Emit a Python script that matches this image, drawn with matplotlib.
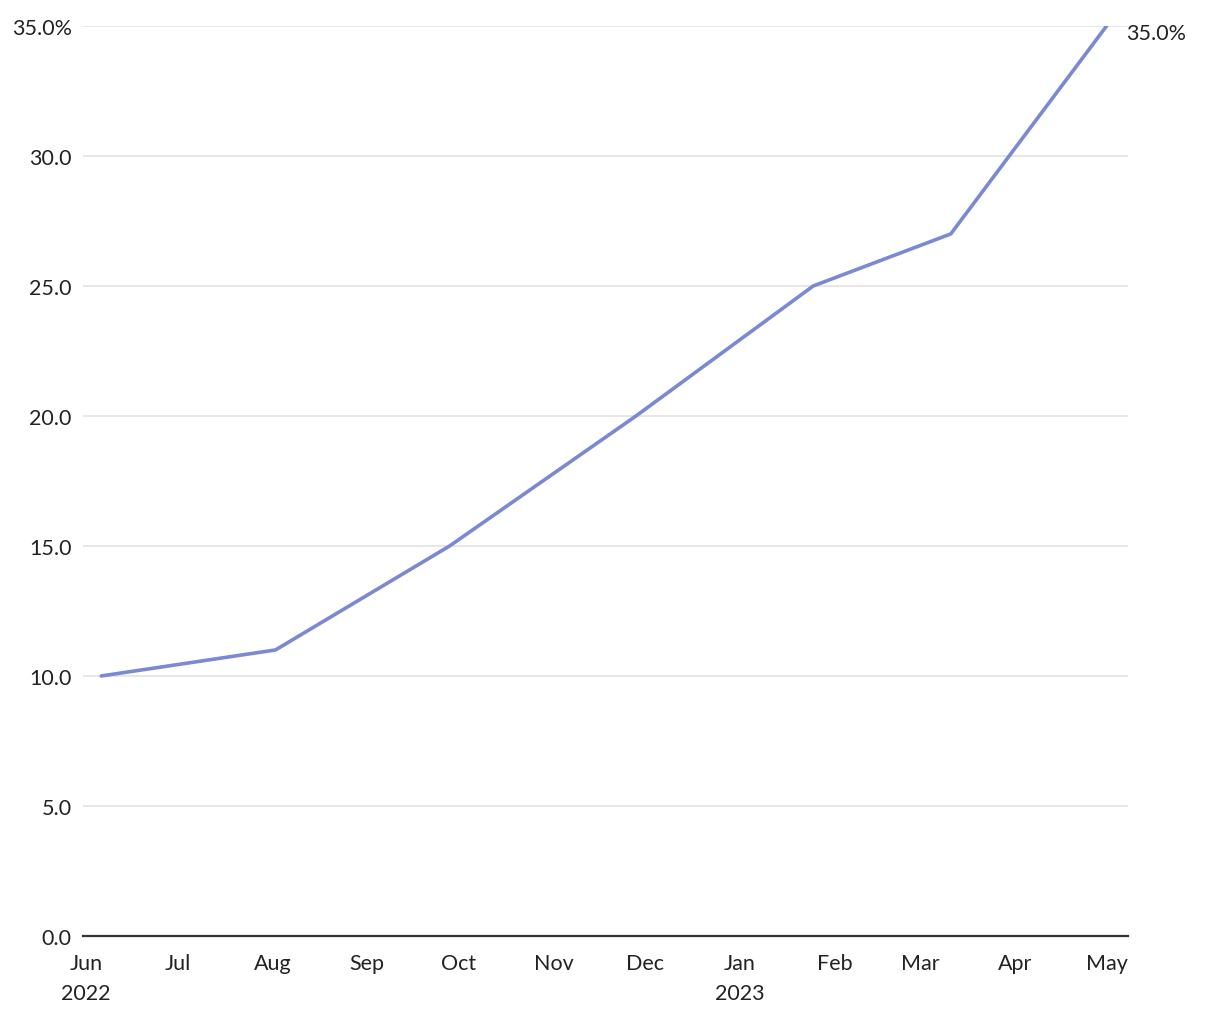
import datetime as dt

import matplotlib
matplotlib.use("Agg")
import matplotlib.pyplot as plt
from matplotlib.ticker import FuncFormatter

plt.rcParams["font.family"] = ["Lato", "DejaVu Sans"]

# values
dates = [dt.date(2022, 6, 6), dt.date(2022, 8, 2), dt.date(2022, 9, 28),
         dt.date(2022, 11, 28), dt.date(2023, 1, 25), dt.date(2023, 3, 11),
         dt.date(2023, 5, 1)]
values = [10.0, 11.0, 15.0, 20.0, 25.0, 27.0, 35.0]
yticks = [0, 5, 10, 15, 20, 25, 30, 35]
month_ticks = [dt.date(2022, m, 1) for m in range(6, 13)] + \
              [dt.date(2023, m, 1) for m in range(1, 6)]
month_labels = ["Jun\n2022", "Jul", "Aug", "Sep", "Oct", "Nov", "Dec",
                "Jan\n2023", "Feb", "Mar", "Apr", "May"]

line_color = "#7b88d2"
text_color = "#222222"

fig = plt.figure(figsize=(12.2, 10.2), dpi=100)
ax = fig.add_axes([0.068, 0.0814, 0.8566, 0.8922])

ax.plot(dates, values, color=line_color, lw=2.6, solid_capstyle="round",
        zorder=5)

ax.set_ylim(0, 35)
ax.set_xlim(dt.date(2022, 5, 31), dt.date(2023, 5, 8))
ax.set_yticks(yticks)
top = yticks[-1]
ax.yaxis.set_major_formatter(FuncFormatter(
    lambda v, _: f"{v:.1f}%" if v == top else f"{v:.1f}"))
ax.set_xticks(month_ticks)
ax.set_xticklabels(month_labels, linespacing=1.65)

ax.grid(axis="y", color="#e3e3e3", lw=1.2)
ax.set_axisbelow(True)
for s in ["top", "right", "left"]:
    ax.spines[s].set_visible(False)
ax.spines["bottom"].set_color("#333333")
ax.spines["bottom"].set_linewidth(1.6)
ax.spines["bottom"].set_zorder(6)

ax.tick_params(axis="y", length=0, pad=8, labelsize=15.5, labelcolor=text_color)
ax.tick_params(axis="x", length=0, pad=12, labelsize=15.5, labelcolor=text_color)

ax.annotate(f"{values[-1]:.1f}%", (dates[-1], values[-1]),
            xytext=(14, -5), textcoords="offset points",
            ha="left", va="center", fontsize=15.5, color=text_color)

fig.savefig("out.png", dpi=100)
